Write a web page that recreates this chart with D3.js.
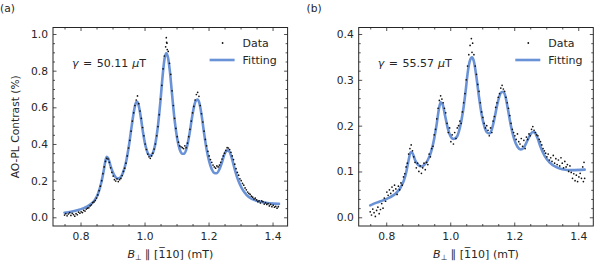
<!DOCTYPE html>
<html>
<head>
<meta charset="utf-8">
<script src="https://cdn.jsdelivr.net/npm/d3@7"></script>
<style>
  body { margin: 0; background: #fff; }
  svg { display: block; font-family: "DejaVu Sans", sans-serif; }
</style>
</head>
<body>
<svg id="chart" width="595" height="268"></svg>
<script>
// tick values
var xTicks = [0.8, 1.0, 1.2, 1.4];
var yTicksA = [0.0, 0.2, 0.4, 0.6, 0.8, 1.0];
var yTicksB = [0.0, 0.1, 0.2, 0.3, 0.4];

// panel (a): fitted curve
var fitA = [[0.75,.025],[0.77,.030],[0.79,.038],[0.81,.050],[0.83,.070],[0.845,.095],[0.855,.130],
  [0.865,.190],[0.872,.250],[0.878,.310],[0.882,.330],[0.887,.320],[0.893,.285],[0.90,.250],
  [0.908,.222],[0.915,.212],[0.923,.215],[0.932,.240],[0.942,.300],[0.952,.400],[0.960,.500],
  [0.967,.580],[0.972,.620],[0.976,.632],[0.981,.615],[0.988,.550],[0.995,.465],[1.003,.390],
  [1.010,.350],[1.017,.336],[1.024,.345],[1.033,.395],[1.042,.500],[1.050,.640],[1.057,.780],
  [1.063,.870],[1.068,.895],[1.073,.875],[1.079,.800],[1.086,.670],[1.094,.530],[1.102,.430],
  [1.110,.370],[1.118,.347],[1.124,.347],[1.132,.380],[1.140,.450],[1.148,.540],[1.156,.615],
  [1.161,.638],[1.166,.642],[1.171,.625],[1.178,.560],[1.186,.460],[1.194,.370],[1.202,.305],
  [1.210,.262],[1.218,.242],[1.225,.240],[1.233,.258],[1.242,.300],[1.250,.345],[1.256,.362],
  [1.261,.365],[1.267,.352],[1.274,.315],[1.283,.255],[1.293,.200],[1.305,.155],[1.320,.120],
  [1.335,.100],[1.350,.090],[1.370,.082],[1.390,.077],[1.42,.073]];

// panel (a): measured points
var dataA = [[0.750,.012],[0.754,.020],[0.758,.008],[0.762,.018],[0.766,.025],[0.770,.010],[0.774,.022],
  [0.778,.015],[0.782,.006],[0.786,.020],[0.790,.014],[0.794,.028],[0.798,.022],[0.802,.030],
  [0.806,.026],[0.810,.038],[0.814,.034],[0.818,.045],[0.822,.050],[0.826,.052],[0.830,.062],
  [0.834,.068],[0.838,.080],[0.842,.084],[0.846,.092],[0.850,.105],[0.854,.122],[0.858,.145],
  [0.862,.170],[0.866,.200],[0.870,.238],[0.874,.275],[0.878,.305],[0.882,.322],[0.886,.318],
  [0.890,.300],[0.894,.270],[0.898,.245],[0.902,.225],[0.906,.205],[0.910,.198],[0.914,.210],
  [0.918,.195],[0.922,.205],[0.926,.212],[0.930,.228],[0.934,.250],[0.938,.268],[0.942,.295],
  [0.946,.335],[0.950,.378],[0.954,.420],[0.958,.470],[0.962,.525],[0.966,.570],[0.970,.610],
  [0.974,.640],[0.978,.662],[0.982,.620],[0.986,.580],[0.990,.540],[0.994,.490],[0.998,.445],
  [1.002,.400],[1.006,.370],[1.010,.345],[1.014,.330],[1.018,.322],[1.022,.335],[1.026,.350],
  [1.030,.372],[1.034,.400],[1.038,.445],[1.042,.495],[1.046,.560],[1.050,.645],[1.054,.720],
  [1.058,.810],[1.062,.880],[1.066,.930],[1.068,.980],[1.069,.955],[1.070,.950],[1.071,.915],
  [1.074,.905],[1.078,.840],[1.082,.780],[1.086,.690],[1.090,.610],[1.094,.540],[1.098,.485],
  [1.102,.440],[1.106,.410],[1.110,.390],[1.114,.385],[1.118,.380],[1.122,.375],[1.126,.390],
  [1.130,.380],[1.134,.405],[1.138,.440],[1.142,.480],[1.146,.525],[1.150,.570],[1.154,.605],
  [1.158,.640],[1.162,.670],[1.166,.682],[1.170,.660],[1.174,.610],[1.178,.565],[1.182,.520],
  [1.186,.470],[1.190,.425],[1.194,.390],[1.198,.360],[1.202,.335],[1.206,.315],[1.210,.300],
  [1.214,.285],[1.218,.275],[1.222,.268],[1.226,.280],[1.230,.275],[1.234,.285],[1.238,.300],
  [1.242,.318],[1.246,.335],[1.250,.350],[1.254,.365],[1.258,.380],[1.262,.378],[1.266,.370],
  [1.270,.355],[1.274,.335],[1.278,.315],[1.282,.290],[1.286,.265],[1.290,.245],[1.294,.230],
  [1.298,.210],[1.302,.200],[1.306,.185],[1.310,.175],[1.314,.160],[1.318,.150],[1.322,.138],
  [1.326,.130],[1.330,.125],[1.334,.115],[1.338,.110],[1.342,.100],[1.346,.105],[1.350,.095],
  [1.354,.085],[1.358,.090],[1.362,.078],[1.366,.090],[1.370,.085],[1.374,.072],[1.378,.080],
  [1.382,.070],[1.386,.075],[1.390,.062],[1.394,.070],[1.398,.058],[1.402,.066],[1.406,.055],
  [1.410,.060],[1.414,.050],[1.418,.058]];

// panel (b): fitted curve
var fitB = [[0.75,.026],[0.77,.032],[0.79,.037],[0.81,.043],[0.83,.052],[0.845,.065],[0.855,.080],
  [0.863,.100],[0.870,.125],[0.876,.142],[0.882,.140],[0.890,.125],[0.900,.114],[0.910,.111],
  [0.920,.115],[0.930,.125],[0.940,.142],[0.950,.172],[0.958,.205],[0.965,.238],[0.970,.251],
  [0.976,.247],[0.983,.225],[0.992,.195],[1.000,.178],[1.010,.171],[1.020,.175],[1.030,.195],
  [1.040,.232],[1.048,.275],[1.055,.318],[1.062,.343],[1.068,.349],[1.074,.340],[1.082,.305],
  [1.090,.262],[1.098,.225],[1.106,.200],[1.114,.186],[1.122,.183],[1.130,.192],[1.138,.215],
  [1.146,.243],[1.154,.265],[1.160,.273],[1.166,.274],[1.172,.265],[1.180,.237],[1.190,.198],
  [1.200,.170],[1.210,.154],[1.220,.148],[1.230,.152],[1.240,.166],[1.250,.180],[1.258,.186],
  [1.264,.185],[1.272,.174],[1.282,.154],[1.295,.134],[1.310,.120],[1.330,.110],[1.350,.105],
  [1.380,.103],[1.420,.104]];

// panel (b): measured points
var dataB = [[0.750,.012],[0.754,.005],[0.758,.018],[0.762,.010],[0.766,.002],[0.770,.015],[0.774,.022],
  [0.778,.008],[0.782,.017],[0.786,.030],[0.790,.020],[0.794,.042],[0.798,.035],[0.802,.055],
  [0.806,.048],[0.810,.060],[0.814,.052],[0.818,.066],[0.822,.058],[0.826,.070],[0.830,.062],
  [0.834,.050],[0.838,.068],[0.842,.060],[0.846,.075],[0.850,.070],[0.854,.088],[0.858,.095],
  [0.862,.110],[0.866,.118],[0.870,.138],[0.874,.150],[0.878,.158],[0.882,.145],[0.886,.132],
  [0.890,.120],[0.894,.108],[0.898,.118],[0.902,.100],[0.906,.112],[0.910,.096],[0.914,.108],
  [0.918,.118],[0.922,.104],[0.926,.120],[0.930,.115],[0.934,.138],[0.938,.132],[0.942,.150],
  [0.946,.155],[0.950,.180],[0.954,.192],[0.958,.215],[0.962,.238],[0.966,.255],[0.970,.265],
  [0.974,.258],[0.978,.250],[0.982,.238],[0.986,.228],[0.990,.205],[0.994,.185],[0.998,.195],
  [1.002,.165],[1.006,.180],[1.010,.160],[1.014,.185],[1.018,.172],[1.022,.195],[1.026,.200],
  [1.030,.210],[1.034,.205],[1.038,.230],[1.042,.250],[1.046,.270],[1.050,.300],[1.054,.330],
  [1.058,.355],[1.062,.375],[1.066,.390],[1.068,.360],[1.070,.380],[1.074,.355],[1.078,.330],
  [1.082,.312],[1.086,.290],[1.090,.275],[1.094,.250],[1.098,.230],[1.102,.218],[1.106,.205],
  [1.110,.195],[1.114,.200],[1.118,.190],[1.122,.178],[1.126,.195],[1.130,.185],[1.134,.210],
  [1.138,.220],[1.142,.240],[1.146,.250],[1.150,.262],[1.154,.270],[1.158,.282],[1.162,.288],
  [1.166,.280],[1.170,.275],[1.174,.262],[1.178,.250],[1.182,.238],[1.186,.222],[1.190,.205],
  [1.194,.192],[1.198,.185],[1.202,.178],[1.206,.170],[1.210,.182],[1.214,.165],[1.218,.160],
  [1.222,.172],[1.226,.155],[1.230,.168],[1.234,.150],[1.238,.175],[1.242,.170],[1.246,.182],
  [1.250,.178],[1.254,.192],[1.258,.198],[1.262,.190],[1.266,.185],[1.270,.180],[1.274,.178],
  [1.278,.170],[1.282,.165],[1.286,.158],[1.290,.150],[1.294,.145],[1.298,.140],[1.302,.132],
  [1.306,.138],[1.310,.125],[1.314,.130],[1.318,.122],[1.322,.135],[1.326,.118],[1.330,.128],
  [1.334,.115],[1.338,.125],[1.342,.112],[1.346,.130],[1.350,.118],[1.354,.108],[1.358,.122],
  [1.362,.110],[1.366,.115],[1.370,.100],[1.374,.112],[1.378,.098],[1.382,.085],[1.386,.095],
  [1.390,.080],[1.394,.092],[1.398,.078],[1.402,.088],[1.406,.096],[1.410,.085],[1.414,.110],
  [1.416,.078],[1.418,.120],[1.420,.085]];

var ink = "#262626", blue = "#6a92d6";
var svg = d3.select("#chart");

var panels = [
  { left: 53, tag: "(a)", tagX: 0, gamma: "50.11", fit: fitA, data: dataA, yTicks: yTicksA,
    yDom: [-0.0475, 1.0355], yMinor: 0.05, ylabel: true },
  { left: 358.7, tag: "(b)", tagX: 306.5, gamma: "55.57", fit: fitB, data: dataB, yTicks: yTicksB,
    yDom: [-0.019, 0.4142], yMinor: 0.02, ylabel: false }
];

var W = 234.6, yTop = 27.5, yBot = 226;

panels.forEach(function(p) {
  var x = d3.scaleLinear().domain([0.714, 1.447]).range([p.left, p.left + W]);
  var y = d3.scaleLinear().domain(p.yDom).range([yBot, yTop]);
  var g = svg.append("g");

  var xMinor = d3.range(0.75, 1.4001, 0.05).filter(function(v) {
    return xTicks.every(function(t) { return Math.abs(t - v) > 1e-6; });
  });
  var yMinor = d3.range(0, p.yTicks[p.yTicks.length - 1] + 1e-6, p.yMinor).filter(function(v) {
    return p.yTicks.every(function(t) { return Math.abs(t - v) > 1e-6; });
  });

  // unlabeled inward ticks
  function ticks(axis, tr, vals, len) {
    var sel = g.append("g").attr("transform", tr)
      .call(axis.tickValues(vals).tickSize(-len).tickFormat(""));
    sel.select(".domain").remove();
    sel.selectAll("text").remove();
    sel.selectAll("line").attr("stroke", ink).attr("stroke-width", 0.8);
  }
  var bx = g.append("g").attr("transform", "translate(0," + yBot + ")")
    .call(d3.axisBottom(x).tickValues(xTicks).tickSize(-3.5).tickPadding(6.5).tickFormat(d3.format(".1f")));
  var lx = g.append("g").attr("transform", "translate(" + p.left + ",0)")
    .call(d3.axisLeft(y).tickValues(p.yTicks).tickSize(-3.5).tickPadding(5).tickFormat(d3.format(".1f")));
  [bx, lx].forEach(function(s) {
    s.select(".domain").remove();
    s.selectAll("line").attr("stroke", ink).attr("stroke-width", 0.8);
    s.selectAll("text").attr("fill", ink).style("font-size", "10.7px").style("font-family", "DejaVu Sans");
  });
  ticks(d3.axisBottom(x), "translate(0," + yBot + ")", xMinor, 2);
  ticks(d3.axisTop(x), "translate(0," + yTop + ")", xTicks, 3.5);
  ticks(d3.axisTop(x), "translate(0," + yTop + ")", xMinor, 2);
  ticks(d3.axisLeft(y), "translate(" + p.left + ",0)", yMinor, 2);
  ticks(d3.axisRight(y), "translate(" + (p.left + W) + ",0)", p.yTicks, 3.5);
  ticks(d3.axisRight(y), "translate(" + (p.left + W) + ",0)", yMinor, 2);

  // fit line + data points
  g.append("path").datum(p.fit)
    .attr("fill", "none").attr("stroke", blue).attr("stroke-width", 2.6)
    .attr("stroke-linejoin", "round").attr("stroke-linecap", "round")
    .attr("d", d3.line().x(function(d) { return x(d[0]); }).y(function(d) { return y(d[1]); })
      .curve(d3.curveMonotoneX));
  g.append("g").selectAll("circle").data(p.data).enter().append("circle")
    .attr("cx", function(d) { return x(d[0]); })
    .attr("cy", function(d) { return y(d[1]); })
    .attr("r", 0.85).attr("fill", "#111");

  // frame
  g.append("rect").attr("x", p.left).attr("y", yTop).attr("width", W).attr("height", yBot - yTop)
    .attr("fill", "none").attr("stroke", ink).attr("stroke-width", 1);

  // annotation (mathtext-like spacing)
  var gt = g.append("text").attr("x", p.left + 19).attr("y", 67)
    .attr("fill", ink).style("font-size", "11px");
  gt.append("tspan").attr("font-style", "italic").text("\u03B3");
  gt.append("tspan").attr("dx", 4.5).text("=");
  gt.append("tspan").attr("dx", 4.5).text(p.gamma);
  gt.append("tspan").attr("dx", 4).attr("font-style", "italic").text("\u03BC");
  gt.append("tspan").text("T");

  // legend
  var R = p.left + W;
  g.append("circle").attr("cx", R - 65).attr("cy", 43).attr("r", 0.9).attr("fill", "#111");
  g.append("line").attr("x1", R - 78).attr("x2", R - 53).attr("y1", 60).attr("y2", 60)
    .attr("stroke", blue).attr("stroke-width", 2.6);
  g.append("text").attr("x", R - 45).attr("y", 47).attr("fill", ink).style("font-size", "11px").text("Data");
  g.append("text").attr("x", R - 45).attr("y", 64).attr("fill", ink).style("font-size", "11px").text("Fitting");

  // x label
  var xl = g.append("text").attr("x", p.left + W / 2).attr("y", 257.5).attr("text-anchor", "middle")
    .attr("fill", ink).style("font-size", "11px");
  xl.append("tspan").attr("font-style", "italic").text("B");
  xl.append("tspan").attr("dy", 2.5).style("font-size", "7.7px").text("\u22A5");
  xl.append("tspan").attr("dy", -2.5).text(" \u2225 [1\u0305" + "10] (mT)");

  if (p.ylabel) {
    g.append("text").attr("transform", "translate(19," + ((yTop + yBot) / 2) + ") rotate(-90)")
      .attr("text-anchor", "middle").attr("fill", ink).style("font-size", "10.7px")
      .text("AO-PL Contrast (%)");
  }

  g.append("text").attr("x", p.tagX).attr("y", 12).attr("fill", ink).style("font-size", "10.7px").text(p.tag);
});
</script>
</body>
</html>
